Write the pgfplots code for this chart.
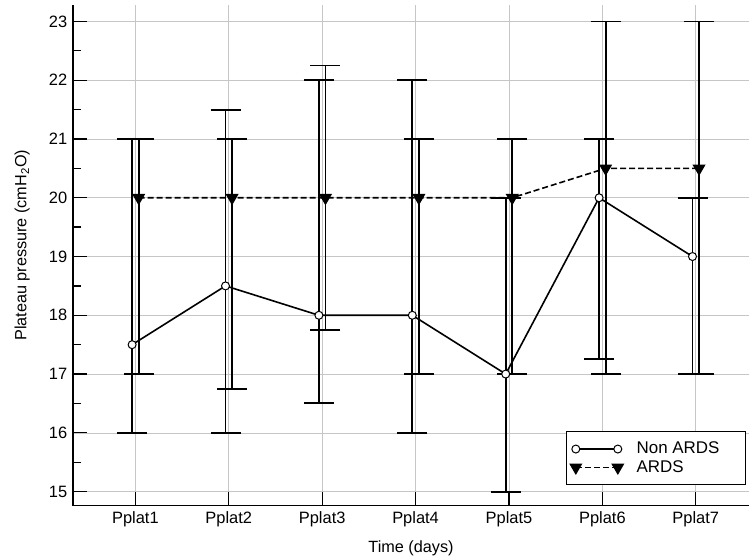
\documentclass[border=0pt]{standalone}
\usepackage{pgfplots}
\pgfplotsset{compat=1.18}
\usepackage{fontspec}
\setmainfont{Liberation Sans}

\begin{document}
\fontsize{17}{20}\selectfont
\begin{tikzpicture}
\begin{axis}[
    name=ax,
    scale only axis,
    width=676bp, height=500.7bp,
    xmin=0.332, xmax=7.57,
    ymin=14.76, ymax=23.28,
    axis lines=left,
    axis line style={-, line width=1.5bp},
    tick align=inside,
    tick style={black, line width=1.3bp},
    major tick length=14bp,
    minor tick length=8bp,
    xtick={1,2,3,4,5,6,7},
    xticklabels={Pplat1,Pplat2,Pplat3,Pplat4,Pplat5,Pplat6,Pplat7},
    ytick={15,16,...,23},
    minor y tick num=1,
    grid=major,
    major grid style={gray!45, line width=0.6bp},
    /pgf/number format/assume math mode=true,
    ticklabel style={font=\fontsize{16.5}{20}\selectfont},
    xlabel={Time (days)},
    ylabel={Plateau pressure (cmH\textsubscript{2}O)},
    label style={font=\fontsize{16.3}{20}\selectfont},
    xlabel style={at={(axis description cs:0.5,-0.0845)}, anchor=center},
    ylabel style={at={(axis description cs:-0.075,0.52)}, anchor=center},
    legend cell align=left,
    legend style={at={(0.9956,0.041)}, anchor=south east,
        draw=black, line width=1.2bp, inner xsep=4bp, inner ysep=8bp,
        row sep=0bp, font=\fontsize{17}{20}\selectfont},
    legend image code/.code={
        \draw[#1, mark repeat=2, mark phase=1]
            plot coordinates {(0bp,0bp) (21bp,0bp) (42bp,0bp)};
        \path (58bp,0bp);
    },
    error bars/error bar style={line width=1.9bp, black, solid},
    error bars/error mark options={rotate=90, black, line width=1.9bp, mark size=15bp, solid},
]

% Non ARDS: median with range
\addplot[black, line width=1.6bp, mark=*, mark size=4bp,
    mark options={fill=white, line width=1bp, solid},
    error bars/.cd, y dir=both, y explicit]
coordinates {
    (0.965,17.5) += (0,3.5)  -= (0,1.5)
    (1.965,18.5) += (0,3.0)  -= (0,2.5)
    (2.965,18.0) += (0,4.0)  -= (0,1.5)
    (3.965,18.0) += (0,4.0)  -= (0,2.0)
    (4.965,17.0) += (0,3.0)  -= (0,2.0)
    (5.965,20.0) += (0,1.0)  -= (0,2.75)
    (6.965,19.0) += (0,1.0)  -= (0,2.0)
};
\addlegendentry{Non ARDS\kern20bp\mbox{}}

% ARDS
\addplot[black, line width=1.6bp, dash pattern=on 6bp off 3bp,
    mark=triangle*, mark size=6bp,
    mark options={fill=black, rotate=180, solid},
    error bars/.cd, y dir=both, y explicit]
coordinates {
    (1.035,20.0) += (0,1.0)  -= (0,3.0)
    (2.035,20.0) += (0,1.0)  -= (0,3.25)
    (3.035,20.0) += (0,2.25) -= (0,2.25)
    (4.035,20.0) += (0,1.0)  -= (0,3.0)
    (5.035,20.0) += (0,1.0)  -= (0,3.0)
    (6.035,20.5) += (0,2.5)  -= (0,3.5)
    (7.035,20.5) += (0,2.5)  -= (0,3.5)
};
\addlegendentry{ARDS}
\end{axis}
\pgfresetboundingbox
\path[use as bounding box] ([shift={(-73bp,-52.3bp)}]ax.south west)
    rectangle ([shift={(678bp,505.7bp)}]ax.south west);
\end{tikzpicture}
\end{document}
